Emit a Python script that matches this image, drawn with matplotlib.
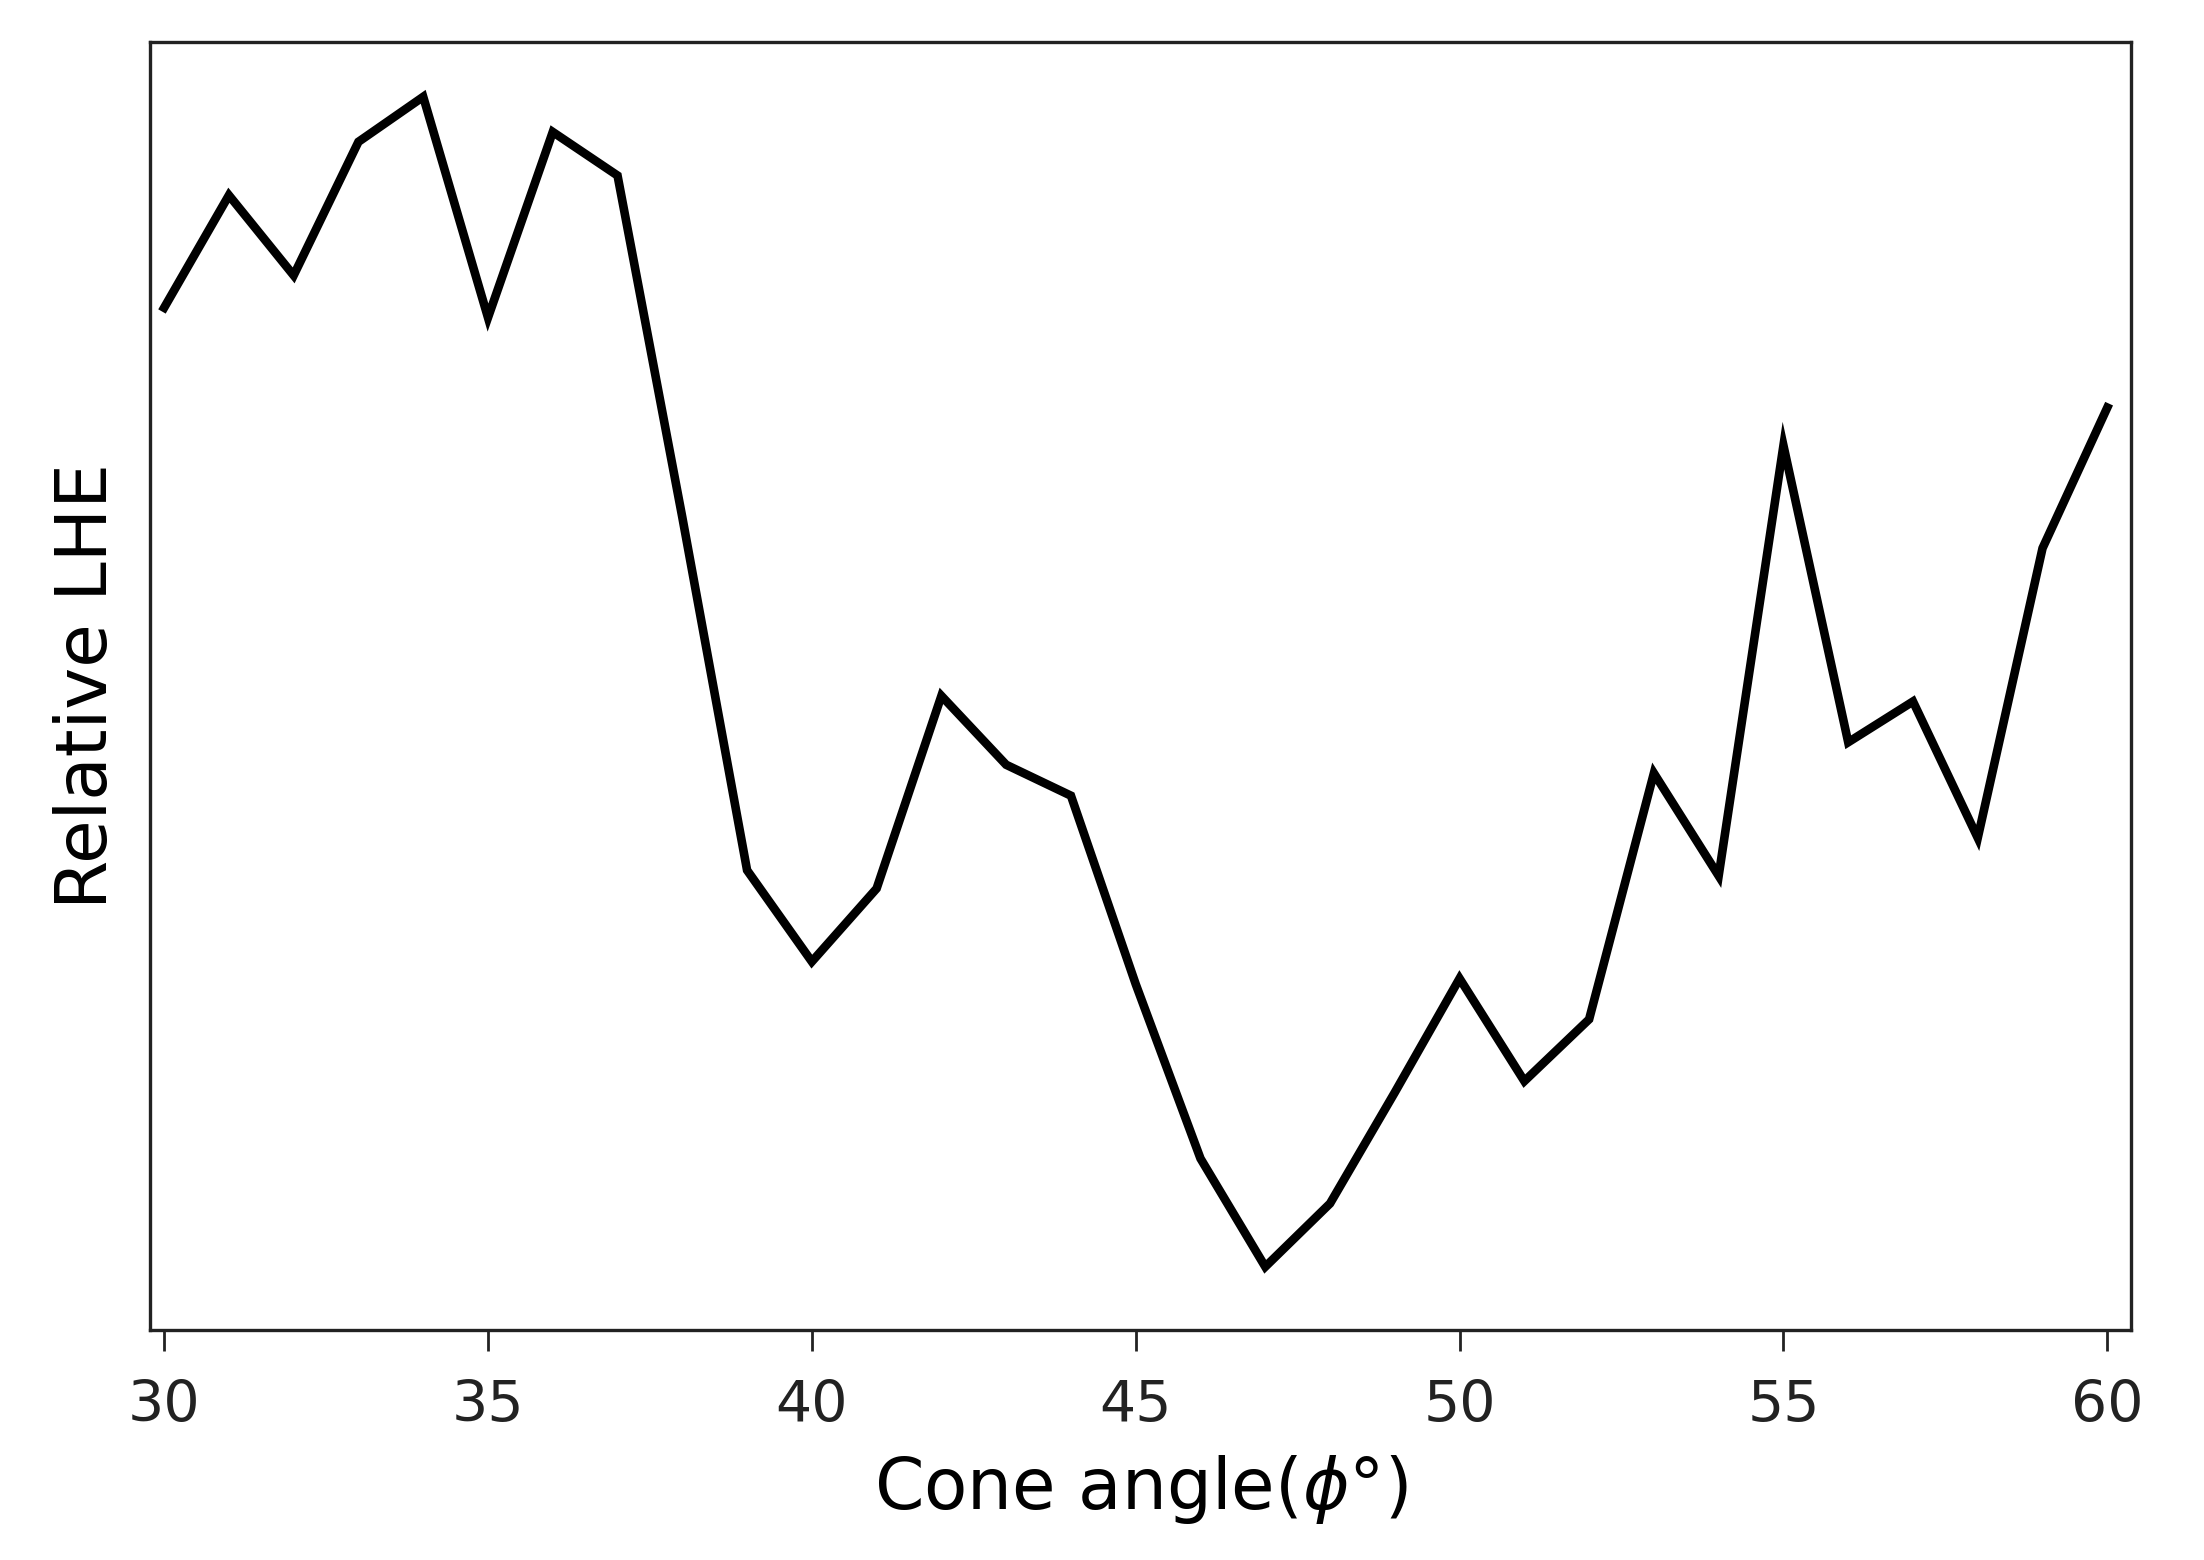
import matplotlib
matplotlib.use("Agg")
import matplotlib.pyplot as plt

cone_angle = [30, 31, 32, 33, 34, 35, 36, 37, 38, 39, 40, 41, 42, 43, 44, 45,
              46, 47, 48, 49, 50, 51, 52, 53, 54, 55, 56, 57, 58, 59, 60]
relative_lhe = [72.7, 80.7, 75.0, 84.5, 87.7, 72.0, 85.2, 82.1, 57.8, 32.7,
                26.2, 31.4, 45.1, 40.2, 38.0, 24.6, 12.2, 4.5, 9.0, 16.9,
                25.0, 17.7, 22.1, 39.6, 32.3, 62.9, 41.8, 44.7, 35.0, 55.6, 65.6]
x_ticks = [30, 35, 40, 45, 50, 55, 60]

plt.rcParams['font.family'] = ['DejaVu Sans']

fig = plt.figure(figsize=(22.04, 15.6), dpi=100)
ax = fig.add_axes([0.068, 0.1474, 0.899, 0.8257])

ax.plot(cone_angle, relative_lhe, color='black', linewidth=6.2, solid_joinstyle='miter')

ax.set_xlim(29.78, 60.37)
ax.set_ylim(0, 91.6)
ax.set_xticks(x_ticks)
ax.set_xticklabels([str(t) for t in x_ticks])
ax.set_yticks([])

ax.tick_params(axis='x', labelsize=41, length=15, width=2.0, pad=20,
               colors='#222222', labelcolor='#222222')
for s in ax.spines.values():
    s.set_linewidth(2.4)
    s.set_color('#222222')

ax.set_xlabel('Cone angle($\\phi$°)', fontsize=51, labelpad=14)
ax.set_ylabel('Relative LHE', fontsize=51, labelpad=20)

fig.savefig('out.png', dpi=100)
